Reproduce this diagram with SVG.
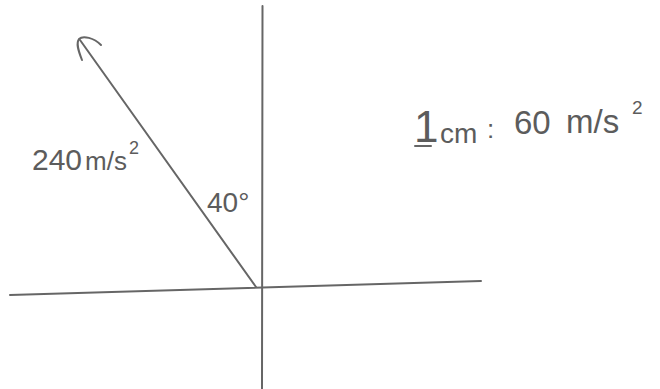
<svg xmlns="http://www.w3.org/2000/svg" width="660" height="389" viewBox="0 0 660 389">
  <style>
    .ln { fill: none; stroke: #666; stroke-width: 2; stroke-linecap: round; stroke-linejoin: round; }
    .hw { font-family: "Liberation Sans", "DejaVu Sans", sans-serif; fill: #5c5c5c; }
  </style>
  <rect width="660" height="389" fill="#ffffff"/>
  <g id="axes">
    <line class="ln" x1="262.5" y1="6" x2="262" y2="389"/>
    <line class="ln" x1="10" y1="295" x2="481" y2="281"/>
  </g>
  <g id="connectors">
    <line class="ln" x1="256" y1="287" x2="80" y2="40"/>
    <path class="ln" d="M82,60 C78,50 76,43 79,39 C83,35 94,38 101,45"/>
  </g>
  <g id="magnitude-label">
    <text class="hw" x="32" y="170"><tspan font-size="30">240</tspan><tspan font-size="26" dx="3">m/s</tspan><tspan font-size="18" dx="2" dy="-16">2</tspan></text>
  </g>
  <g id="angle-label">
    <text class="hw" font-size="28" x="207" y="212">40°</text>
  </g>
  <g id="scale-label">
    <line class="ln" x1="415" y1="146" x2="431" y2="146"/>
    <text class="hw" x="414" y="142"><tspan font-size="44">1</tspan><tspan font-size="28" x="440" y="143">cm</tspan><tspan font-size="26" x="487" y="138">:</tspan><tspan font-size="33" x="514" y="134">60</tspan><tspan font-size="33" x="566" y="133">m/s</tspan><tspan font-size="19" x="632" y="114">2</tspan></text>
  </g>
</svg>
